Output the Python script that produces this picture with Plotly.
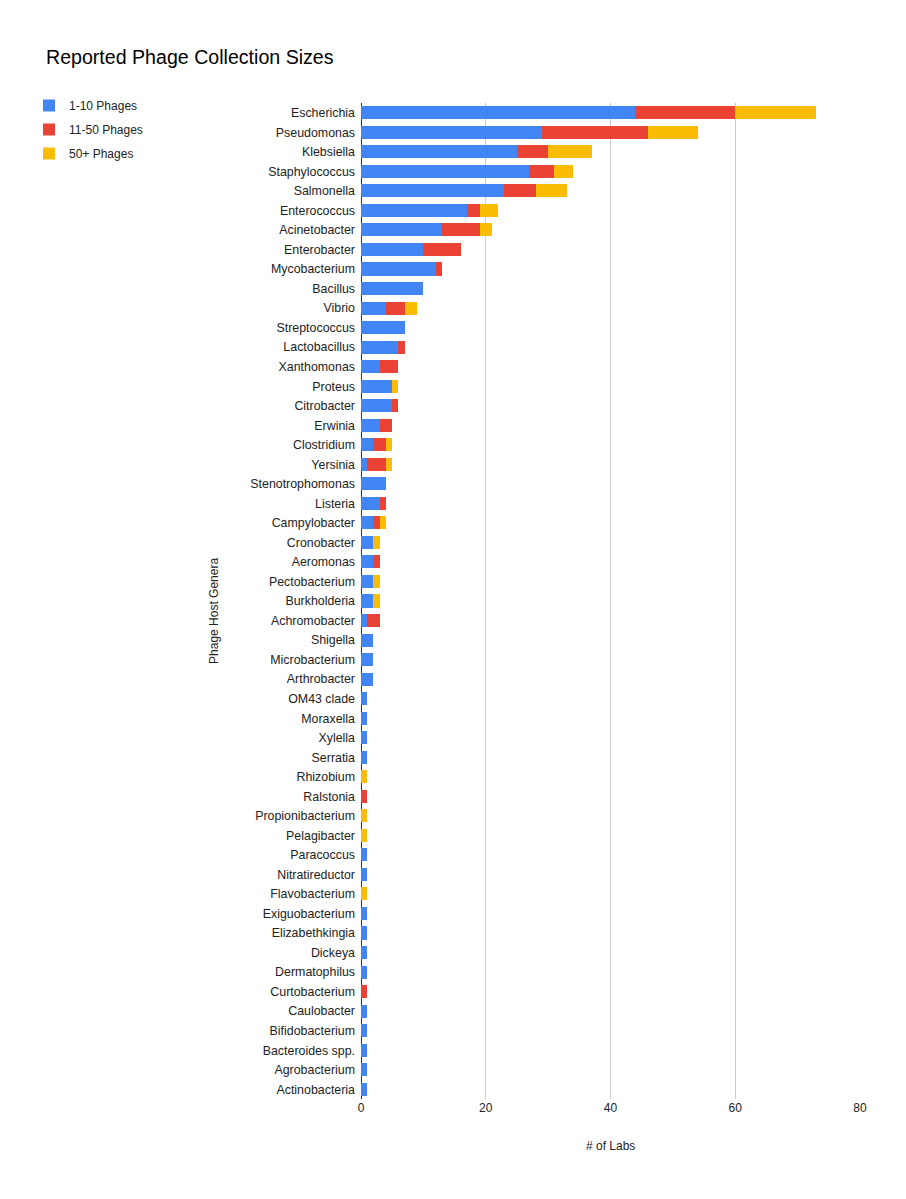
import plotly.graph_objects as go

genera = ["Escherichia", "Pseudomonas", "Klebsiella", "Staphylococcus", "Salmonella",
          "Enterococcus", "Acinetobacter", "Enterobacter", "Mycobacterium", "Bacillus",
          "Vibrio", "Streptococcus", "Lactobacillus", "Xanthomonas", "Proteus",
          "Citrobacter", "Erwinia", "Clostridium", "Yersinia", "Stenotrophomonas",
          "Listeria", "Campylobacter", "Cronobacter", "Aeromonas", "Pectobacterium",
          "Burkholderia", "Achromobacter", "Shigella", "Microbacterium", "Arthrobacter",
          "OM43 clade", "Moraxella", "Xylella", "Serratia", "Rhizobium",
          "Ralstonia", "Propionibacterium", "Pelagibacter", "Paracoccus", "Nitratireductor",
          "Flavobacterium", "Exiguobacterium", "Elizabethkingia", "Dickeya", "Dermatophilus",
          "Curtobacterium", "Caulobacter", "Bifidobacterium", "Bacteroides spp.", "Agrobacterium",
          "Actinobacteria"]

small = [44, 29, 25, 27, 23, 17, 13, 10, 12, 10,
         4, 7, 6, 3, 5, 5, 3, 2, 1, 4,
         3, 2, 2, 2, 2, 2, 1, 2, 2, 2,
         1, 1, 1, 1, 0, 0, 0, 0, 1, 1,
         0, 1, 1, 1, 1, 0, 1, 1, 1, 1,
         1]
medium = [16, 17, 5, 4, 5, 2, 6, 6, 1, 0,
          3, 0, 1, 3, 0, 1, 2, 2, 3, 0,
          1, 1, 0, 1, 0, 0, 2, 0, 0, 0,
          0, 0, 0, 0, 0, 1, 0, 0, 0, 0,
          0, 0, 0, 0, 0, 1, 0, 0, 0, 0,
          0]
large = [13, 8, 7, 3, 5, 3, 2, 0, 0, 0,
         2, 0, 0, 0, 1, 0, 0, 1, 1, 0,
         0, 1, 1, 0, 1, 1, 0, 0, 0, 0,
         0, 0, 0, 0, 1, 0, 1, 1, 0, 0,
         1, 0, 0, 0, 0, 0, 0, 0, 0, 0,
         0]

series = [("1-10 Phages", small, "#4285F4"),
          ("11-50 Phages", medium, "#EA4335"),
          ("50+ Phages", large, "#FBBC04")]

fig = go.Figure()
for i, (name, vals, color) in enumerate(series):
    fig.add_trace(go.Bar(y=genera, x=vals, name=name, orientation="h",
                         marker=dict(color=color, line=dict(width=0)),
                         legendgroup=str(i)))

plot_w = 906 - 361 - 46
plot_h = 1199 - 103 - 100

fig.update_layout(
    width=906, height=1199,
    barmode="stack", bargap=0.33,
    plot_bgcolor="white", paper_bgcolor="white",
    font=dict(family="Liberation Sans, Arial, sans-serif", size=12, color="#222222"),
    margin=dict(l=361, r=46, t=103, b=100, autoexpand=False),
    title=dict(text="Reported Phage Collection Sizes", x=46 / 906, xanchor="left",
               y=1 - 57 / 1199, yanchor="middle", font=dict(size=19.6, color="#000000")),
    legend=dict(x=(29 - 361) / plot_w, xanchor="left", y=1 + 12 / plot_h, yanchor="top",
                traceorder="grouped", tracegroupgap=5, font=dict(size=12, color="#222222"),
                itemwidth=30, bgcolor="rgba(0,0,0,0)"),
    showlegend=True,
)
fig.update_xaxes(range=[0, 80], dtick=20, showgrid=True, gridcolor="#cccccc",
                 zeroline=True, zerolinecolor="#333333", zerolinewidth=1,
                 ticks="", tickfont=dict(size=12, color="#222222"))
fig.update_yaxes(autorange="reversed", showgrid=False, ticks="", ticklabelstandoff=5,
                 tickfont=dict(size=12.4, color="#222222"))

fig.add_annotation(text="Phage Host Genera", textangle=-90, xref="paper", yref="paper",
                   x=(205 - 361) / plot_w, y=0.49, showarrow=False,
                   font=dict(size=12, color="#222222"))
fig.add_annotation(text="# of Labs", xref="paper", yref="paper",
                   x=0.5, y=-(1146 - 1099) / plot_h, yanchor="middle", showarrow=False,
                   font=dict(size=12, color="#222222"))

# drop the browser's default 8px body margin so the figure sits at the page corner
fig.write_html("out.html", config={"displayModeBar": False},
               post_script="document.body.style.margin='0';")
